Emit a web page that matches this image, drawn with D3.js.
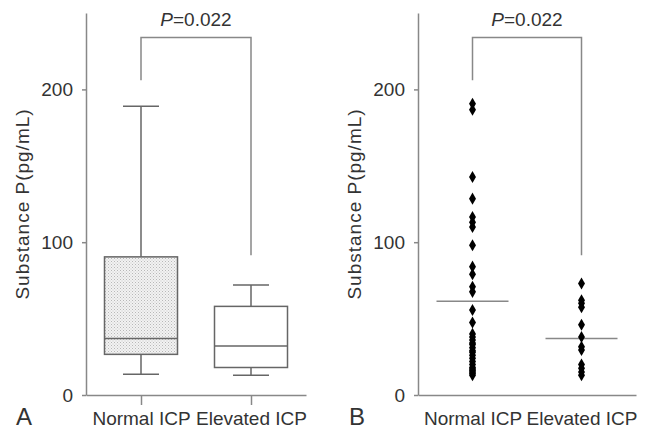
<!DOCTYPE html>
<html>
<head>
<meta charset="utf-8">
<script src="https://cdn.jsdelivr.net/npm/d3@7"></script>
<style>
body { margin: 0; background: #fff; }
text { font-family: "Liberation Sans", Arial, sans-serif; fill: #333; }
</style>
</head>
<body>
<div id="vis"></div>
<script>
var w = 659;
var h = 430;

// data
var groups = ["Normal ICP", "Elevated ICP"];
var yTicks = [0, 100, 200];
var boxMin = [13.5, 13];
var boxQ1 = [26.6, 18];
var boxMedian = [37, 32];
var boxQ3 = [90.4, 58];
var boxMax = [189, 72];
var normalValues = [190.6, 186.7, 142.7, 128.5, 116.5, 113, 110, 98, 84, 79, 70.8, 67.5, 55.6, 47.5,
	40, 38, 36, 34, 33, 31, 29, 28, 26, 24, 22, 20, 18, 17, 16, 15, 14, 13];
var elevatedValues = [73, 62, 60, 57.5, 46, 38, 31.5, 29.5, 20, 17.5, 15, 13];
var groupMeans = [61.4, 37];
var bracketTop = 234;
var bracketEnds = [206, 91.5];
var panelLetters = ["A", "B"];

var svg = d3.select("#vis")
	.append("svg")
	.attr("width", w)
	.attr("height", h);

// dotted fill for the box
var defs = svg.append("defs");
var pat = defs.append("pattern")
	.attr("id", "dots")
	.attr("width", 3)
	.attr("height", 3)
	.attr("patternUnits", "userSpaceOnUse");
pat.append("rect").attr("width", 3).attr("height", 3).attr("fill", "#f2f2f2");
pat.append("rect").attr("width", 1).attr("height", 1).attr("fill", "#b8b8b8");
pat.append("rect").attr("x", 1.5).attr("y", 1.5).attr("width", 1).attr("height", 1).attr("fill", "#c8c8c8");

var y = d3.scaleLinear().domain([0, 250]).range([395, 13]);

var panels = [
	{left: 86, right: 306, labelX: 22, letterX: 16, xTick: 10},
	{left: 418, right: 636, labelX: 354, letterX: 349, xTick: 0}
];

var axisCol = "#888";

panels.forEach(function(p, i) {
	var g = svg.append("g");
	var x = d3.scalePoint().domain(groups).range([p.left, p.right]).padding(0.5);
	p.x = x;
	p.g = g;

	// y axis
	var ya = g.append("g")
		.attr("transform", "translate(" + p.left + ",0)")
		.call(d3.axisLeft(y).tickValues(yTicks).tickSize(4).tickSizeOuter(0).tickPadding(9));
	// x axis
	var xa = g.append("g")
		.attr("transform", "translate(0,395)")
		.call(d3.axisBottom(x).tickSize(p.xTick).tickSizeOuter(0).tickPadding(16.5 - p.xTick));
	[ya, xa].forEach(function(a) {
		a.select(".domain").attr("stroke", axisCol).attr("stroke-width", 1.5);
		a.selectAll(".tick line").attr("stroke", axisCol).attr("stroke-width", 1.5);
		a.selectAll(".tick text")
			.style("font-family", "'Liberation Sans', Arial, sans-serif")
			.style("font-size", "19px")
			.attr("fill", "#333");
	});

	// y label
	g.append("text")
		.text("Substance P(pg/mL)")
		.attr("transform", "translate(" + (p.labelX + 7) + ",204) rotate(-90)")
		.attr("text-anchor", "middle")
		.style("font-size", "19px")
		.style("letter-spacing", "1px");

	// panel letter
	g.append("text")
		.text(panelLetters[i])
		.attr("x", p.letterX)
		.attr("y", 425)
		.style("font-size", "24px")
		.attr("fill", "#111");

	// significance bracket
	var x0 = x(groups[0]), x1 = x(groups[1]);
	g.append("path")
		.attr("d", "M" + x0 + "," + y(bracketEnds[0]) + "V" + y(bracketTop) + "H" + x1 + "V" + y(bracketEnds[1]))
		.attr("fill", "none")
		.attr("stroke", axisCol)
		.attr("stroke-width", 1.5);
	var pt = g.append("text")
		.attr("x", (x0 + x1) / 2)
		.attr("y", 26)
		.attr("text-anchor", "middle")
		.style("font-size", "19px");
	pt.append("tspan").text("P").style("font-style", "italic");
	pt.append("tspan").text("=0.022");
});

// panel A: box plots
var pa = panels[0];
groups.forEach(function(gname, i) {
	var cx = pa.x(gname);
	var bw = 36.5;
	var cw = 18;
	var col = "#666";
	// whiskers
	pa.g.append("line")
		.attr("x1", cx).attr("x2", cx)
		.attr("y1", y(boxQ3[i])).attr("y2", y(boxMax[i]))
		.attr("stroke", col).attr("stroke-width", 1.5);
	pa.g.append("line")
		.attr("x1", cx).attr("x2", cx)
		.attr("y1", y(boxQ1[i])).attr("y2", y(boxMin[i]))
		.attr("stroke", col).attr("stroke-width", 1.5);
	pa.g.append("line")
		.attr("x1", cx - cw).attr("x2", cx + cw)
		.attr("y1", y(boxMax[i])).attr("y2", y(boxMax[i]))
		.attr("stroke", col).attr("stroke-width", 1.5);
	pa.g.append("line")
		.attr("x1", cx - cw).attr("x2", cx + cw)
		.attr("y1", y(boxMin[i])).attr("y2", y(boxMin[i]))
		.attr("stroke", col).attr("stroke-width", 1.5);
	// box
	pa.g.append("rect")
		.attr("x", cx - bw)
		.attr("y", y(boxQ3[i]))
		.attr("width", bw * 2)
		.attr("height", y(boxQ1[i]) - y(boxQ3[i]))
		.attr("fill", i == 0 ? "url(#dots)" : "#fff")
		.attr("stroke", col)
		.attr("stroke-width", 1.5);
	pa.g.append("line")
		.attr("x1", cx - bw).attr("x2", cx + bw)
		.attr("y1", y(boxMedian[i])).attr("y2", y(boxMedian[i]))
		.attr("stroke", col).attr("stroke-width", 1.5);
});

// panel B: dot plot
var pb = panels[1];
var diamond = d3.symbol().type(d3.symbolDiamond).size(42);
[normalValues, elevatedValues].forEach(function(vals, i) {
	var cx = pb.x(groups[i]);
	pb.g.append("line")
		.attr("x1", cx - 36).attr("x2", cx + 36)
		.attr("y1", y(groupMeans[i])).attr("y2", y(groupMeans[i]))
		.attr("stroke", "#888").attr("stroke-width", 1.5);
	pb.g.selectAll(".dot" + i)
		.data(vals)
		.enter()
		.append("path")
		.attr("class", "dot" + i)
		.attr("d", diamond)
		.attr("transform", function(d) { return "translate(" + cx + "," + y(d) + ")"; })
		.attr("fill", "#000");
});
</script>
</body>
</html>
